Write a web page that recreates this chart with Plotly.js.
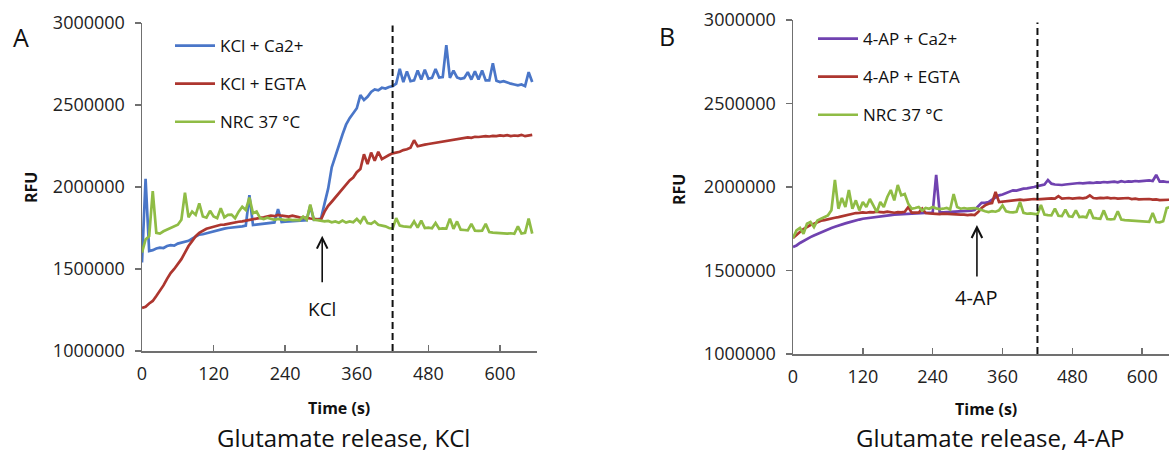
<!DOCTYPE html>
<html>
<head>
<meta charset="utf-8">
<script src="https://cdn.plot.ly/plotly-3.0.1.min.js"></script>
<style>html,body{margin:0;padding:0;background:#fff;}#chart{width:1169px;height:454px;}</style>
</head>
<body>
<div id="chart"></div>
<script>
// ---- Data ----
const time = [0,6,12,18,24,30,36,42,48,54,60,66,72,78,84,90,96,102,108,114,120,126,132,138,144,150,156,162,168,174,180,186,192,198,204,210,216,222,228,234,240,246,252,258,264,270,276,282,288,294,300,306,312,318,324,330,336,342,348,354,360,366,372,378,384,390,396,402,408,414,420,426,432,438,444,450,456,462,468,474,480,486,492,498,504,510,516,522,528,534,540,546,552,558,564,570,576,582,588,594,600,606,612,618,624,630,636,642,648,654];

const seriesNamesA = ["KCl + Ca2+", "KCl + EGTA", "NRC 37 °C"];
const seriesNamesB = ["4-AP + Ca2+", "4-AP + EGTA", "NRC 37 °C"];

const kclCa = [
1540000,2050000,1610000,1615000,1625000,1630000,1628000,1640000,1645000,1642000,
1655000,1660000,1665000,1672000,1685000,1700000,1710000,1712000,1718000,1725000,
1730000,1738000,1742000,1746000,1750000,1752000,1756000,1758000,1760000,1765000,
1950000,1768000,1771000,1775000,1778000,1780000,1782000,1784000,1865000,1786000,
1788000,1790000,1789000,1792000,1794000,1796000,1798000,1885000,1800000,1803000,
1808000,1900000,1990000,2120000,2190000,2260000,2320000,2380000,2420000,2450000,
2480000,2560000,2530000,2550000,2580000,2595000,2590000,2605000,2600000,2610000,
2615000,2630000,2720000,2640000,2705000,2645000,2650000,2710000,2655000,2715000,
2660000,2665000,2720000,2668000,2670000,2865000,2665000,2710000,2668000,2660000,
2665000,2700000,2655000,2705000,2655000,2710000,2650000,2650000,2755000,2648000,
2640000,2645000,2635000,2630000,2625000,2620000,2625000,2615000,2700000,2640000];

const kclEgta = [
1263000,1270000,1290000,1305000,1335000,1367000,1400000,1440000,1475000,1500000,
1530000,1560000,1600000,1640000,1670000,1700000,1720000,1735000,1745000,1752000,
1758000,1765000,1770000,1771000,1776000,1780000,1785000,1788000,1790000,1795000,
1800000,1805000,1807000,1812000,1815000,1820000,1826000,1822000,1830000,1825000,
1822000,1820000,1825000,1818000,1815000,1812000,1813000,1808000,1805000,1802000,
1801000,1850000,1885000,1910000,1935000,1960000,1990000,2010000,2040000,2058000,
2090000,2110000,2200000,2140000,2210000,2160000,2215000,2170000,2185000,2195000,
2205000,2210000,2215000,2225000,2230000,2240000,2285000,2248000,2255000,2258000,
2262000,2266000,2270000,2275000,2278000,2282000,2284000,2290000,2292000,2296000,
2300000,2303000,2300000,2306000,2305000,2309000,2310000,2308000,2312000,2310000,
2315000,2312000,2316000,2310000,2314000,2312000,2318000,2310000,2316000,2318000];

const kclNrc = [
1600000,1680000,1700000,1975000,1720000,1716000,1730000,1740000,1752000,1760000,
1770000,1800000,1966000,1815000,1850000,1830000,1900000,1820000,1813000,1855000,
1820000,1810000,1870000,1815000,1830000,1832000,1810000,1850000,1880000,1860000,
1936000,1840000,1850000,1810000,1805000,1813000,1808000,1800000,1805000,1800000,
1798000,1802000,1798000,1800000,1797000,1820000,1800000,1893000,1800000,1798000,
1795000,1790000,1793000,1785000,1790000,1782000,1795000,1783000,1790000,1785000,
1805000,1782000,1820000,1780000,1775000,1790000,1770000,1765000,1760000,1750000,
1746000,1810000,1765000,1760000,1758000,1755000,1790000,1752000,1795000,1750000,
1752000,1748000,1780000,1745000,1748000,1746000,1807000,1745000,1790000,1740000,
1738000,1736000,1775000,1734000,1732000,1734000,1775000,1725000,1722000,1720000,
1718000,1720000,1716000,1718000,1715000,1760000,1716000,1720000,1807000,1716000];

const apCa = [
1641000,1650000,1665000,1678000,1690000,1700000,1710000,1720000,1730000,1738000,
1745000,1755000,1762000,1770000,1775000,1782000,1788000,1795000,1800000,1805000,
1810000,1813000,1817000,1820000,1824000,1826000,1828000,1830000,1832000,1834000,
1835000,1837000,1838000,1840000,1841000,1842000,1843000,1844000,1845000,1846000,
1847000,2072000,1848000,1848000,1849000,1850000,1850000,1850000,1852000,1853000,
1855000,1858000,1862000,1885000,1905000,1905000,1910000,1925000,1940000,1950000,
1955000,1962000,1970000,1980000,1978000,1985000,1990000,1992000,1994000,2000000,
2005000,2012000,2015000,2042000,2020000,2015000,2012000,2012000,2015000,2018000,
2020000,2022000,2024000,2022000,2025000,2026000,2024000,2028000,2026000,2030000,
2028000,2030000,2032000,2028000,2035000,2030000,2034000,2032000,2036000,2034000,
2036000,2035000,2040000,2036000,2072000,2032000,2034000,2030000,2032000,2030000];

const apEgta = [
1695000,1715000,1730000,1748000,1762000,1772000,1780000,1790000,1798000,1802000,
1808000,1812000,1816000,1820000,1825000,1830000,1835000,1840000,1844000,1845000,
1848000,1846000,1850000,1848000,1852000,1850000,1848000,1852000,1850000,1846000,
1850000,1848000,1852000,1880000,1846000,1844000,1846000,1870000,1844000,1842000,
1840000,1842000,1838000,1840000,1838000,1836000,1838000,1836000,1834000,1835000,
1832000,1834000,1832000,1850000,1874000,1890000,1900000,1904000,1970000,1910000,
1912000,1918000,1920000,1922000,1920000,1924000,1922000,1925000,1924000,1928000,
1926000,1928000,1930000,1928000,1932000,1930000,1945000,1930000,1932000,1934000,
1930000,1934000,1935000,1932000,1936000,1950000,1934000,1932000,1935000,1933000,
1936000,1932000,1934000,1930000,1932000,1930000,1934000,1928000,1930000,1926000,
1928000,1926000,1928000,1924000,1926000,1922000,1924000,1922000,1924000,1922000];

const apNrc = [
1695000,1740000,1755000,1720000,1780000,1790000,1760000,1800000,1810000,1820000,
1830000,1860000,2042000,1870000,1934000,1880000,1982000,1870000,1920000,1860000,
1910000,1880000,1928000,1890000,1850000,1910000,1880000,1940000,1982000,1920000,
2012000,1950000,1958000,1900000,1870000,1874000,1880000,1860000,1875000,1870000,
1880000,1872000,1868000,1870000,1875000,1865000,1958000,1880000,1870000,1874000,
1870000,1872000,1874000,1870000,1860000,1855000,1850000,1855000,1852000,1860000,
1890000,1855000,1850000,1848000,1852000,1910000,1845000,1840000,1842000,1838000,
1836000,1892000,1835000,1832000,1830000,1870000,1828000,1826000,1865000,1825000,
1822000,1860000,1820000,1822000,1818000,1865000,1815000,1812000,1810000,1860000,
1808000,1806000,1808000,1855000,1805000,1802000,1800000,1798000,1796000,1794000,
1792000,1790000,1792000,1845000,1790000,1788000,1795000,1874000,1880000,1870000];

const xTicks = [0,120,240,360,480,600];
const yTicks = [1000000,1500000,2000000,2500000,3000000];
const markerTime = 420;       // dashed line
const kclAddTime = 302;       // KCl arrow
const apAddTime = 316;        // 4-AP arrow

// ---- Styles ----
const FONT = "Open Sans, Noto Sans, sans-serif";
const cBlue = "#4a76c8", cRed = "#ad362f", cGreen = "#8fbc45", cPurple = "#7042b0";
const AXC = "#707070";
const W = 1169, H = 454;
const px = v => v / W, py = v => 1 - v / H;

function tr(x, y, name, color, xa, ya, leg, grp) {
  return {type: "scatter", mode: "lines", x: x, y: y, name: name, xaxis: xa, yaxis: ya,
    legend: leg, legendgroup: grp, line: {color: color, width: 2.7}, hoverinfo: "skip"};
}

const data = [
  tr(time, kclCa, seriesNamesA[0], cBlue, "x", "y", "legend", "a1"),
  tr(time, kclEgta, seriesNamesA[1], cRed, "x", "y", "legend", "a2"),
  tr(time, kclNrc, seriesNamesA[2], cGreen, "x", "y", "legend", "a3"),
  tr(time, apCa, seriesNamesB[0], cPurple, "x2", "y2", "legend2", "b1"),
  tr(time, apEgta, seriesNamesB[1], cRed, "x2", "y2", "legend2", "b2"),
  tr(time, apNrc, seriesNamesB[2], cGreen, "x2", "y2", "legend2", "b3")
];

const axX = (dom, rng, anchor) => ({domain: dom, range: rng, anchor: anchor, tickvals: xTicks,
  ticks: "inside", ticklen: 6, tickwidth: 1.5, tickcolor: AXC,
  showline: true, linecolor: AXC, linewidth: 1.5, showgrid: false, zeroline: false,
  tickfont: {family: FONT, size: 18, color: "#222"}, ticklabelstandoff: 6, fixedrange: true});
const axY = (dom, anchor) => ({domain: dom, range: [1000000, 3000000], anchor: anchor, tickvals: yTicks,
  tickformat: "d", ticks: "outside", ticklen: 6, tickwidth: 1.5, tickcolor: AXC,
  showline: true, linecolor: AXC, linewidth: 1.5, showgrid: false, zeroline: false,
  tickfont: {family: FONT, size: 18, color: "#222"}, ticklabelstandoff: 6, fixedrange: true});

const legStyle = (x, y) => ({x: x, y: y, xanchor: "left", yanchor: "top", bgcolor: "rgba(0,0,0,0)",
  font: {family: FONT, size: 17, color: "#111"}, traceorder: "grouped", tracegroupgap: 13,
  itemwidth: 40});

const ann = (text, x, y, size, extra) => Object.assign({text: text, x: x, y: y, xref: "paper", yref: "paper",
  showarrow: false, xanchor: "center", yanchor: "middle", font: {family: FONT, size: size, color: "#111"}}, extra || {});

const layout = {
  width: W, height: H, margin: {l: 0, r: 0, t: 0, b: 0}, paper_bgcolor: "#fff", plot_bgcolor: "rgba(0,0,0,0)",
  showlegend: true,
  xaxis: axX([px(142), px(537)], [0, 662], "y"),
  yaxis: axY([py(351), py(23)], "x"),
  xaxis2: axX([px(793), 1], [0, 646], "y2"),
  yaxis2: axY([py(354), py(20)], "x2"),
  legend: legStyle(px(170), py(28)),
  legend2: legStyle(px(813), py(21)),
  shapes: [
    {type: "line", xref: "x", yref: "y", x0: markerTime, x1: markerTime, y0: 1000000, y1: 2985000,
     line: {color: "#111", width: 2, dash: "7px,4px"}},
    {type: "line", xref: "x2", yref: "y2", x0: markerTime, x1: markerTime, y0: 1000000, y1: 2985000,
     line: {color: "#111", width: 2, dash: "7px,4px"}}
  ],
  annotations: [
    ann("A", px(21), py(37), 25),
    ann("B", px(667), py(36), 25),
    ann("<b>RFU</b>", px(31), py(188), 16, {textangle: -90}),
    ann("<b>RFU</b>", px(679), py(190), 16, {textangle: -90}),
    ann("<b>Time (s)</b>", px(339), py(408), 16, {borderpad: 0}),
    ann("<b>Time (s)</b>", px(986), py(409), 16, {borderpad: 0}),
    ann("Glutamate release, KCl", px(343), py(437), 24, {borderpad: 0}),
    ann("Glutamate release, 4-AP", px(990), py(437), 24, {borderpad: 0}),
    {xref: "x", yref: "y", axref: "x", ayref: "y", x: kclAddTime, y: 1703000, ax: kclAddTime, ay: 1410000,
     text: "", showarrow: true, arrowhead: 5, arrowsize: 1.3, arrowwidth: 1.6, arrowcolor: "#111", standoff: 0},
    {xref: "x", yref: "y", x: kclAddTime, y: 1257000, text: "KCl", showarrow: false,
     font: {family: FONT, size: 19, color: "#111"}},
    {xref: "x2", yref: "y2", axref: "x2", ayref: "y2", x: apAddTime, y: 1772000, ax: apAddTime, ay: 1455000,
     text: "", showarrow: true, arrowhead: 5, arrowsize: 1.3, arrowwidth: 1.6, arrowcolor: "#111", standoff: 0},
    {xref: "x2", yref: "y2", x: apAddTime, y: 1341000, text: "4-AP", showarrow: false,
     font: {family: FONT, size: 20, color: "#111"}}
  ]
};

Plotly.newPlot("chart", data, layout, {staticPlot: true, displayModeBar: false});
</script>
</body>
</html>
